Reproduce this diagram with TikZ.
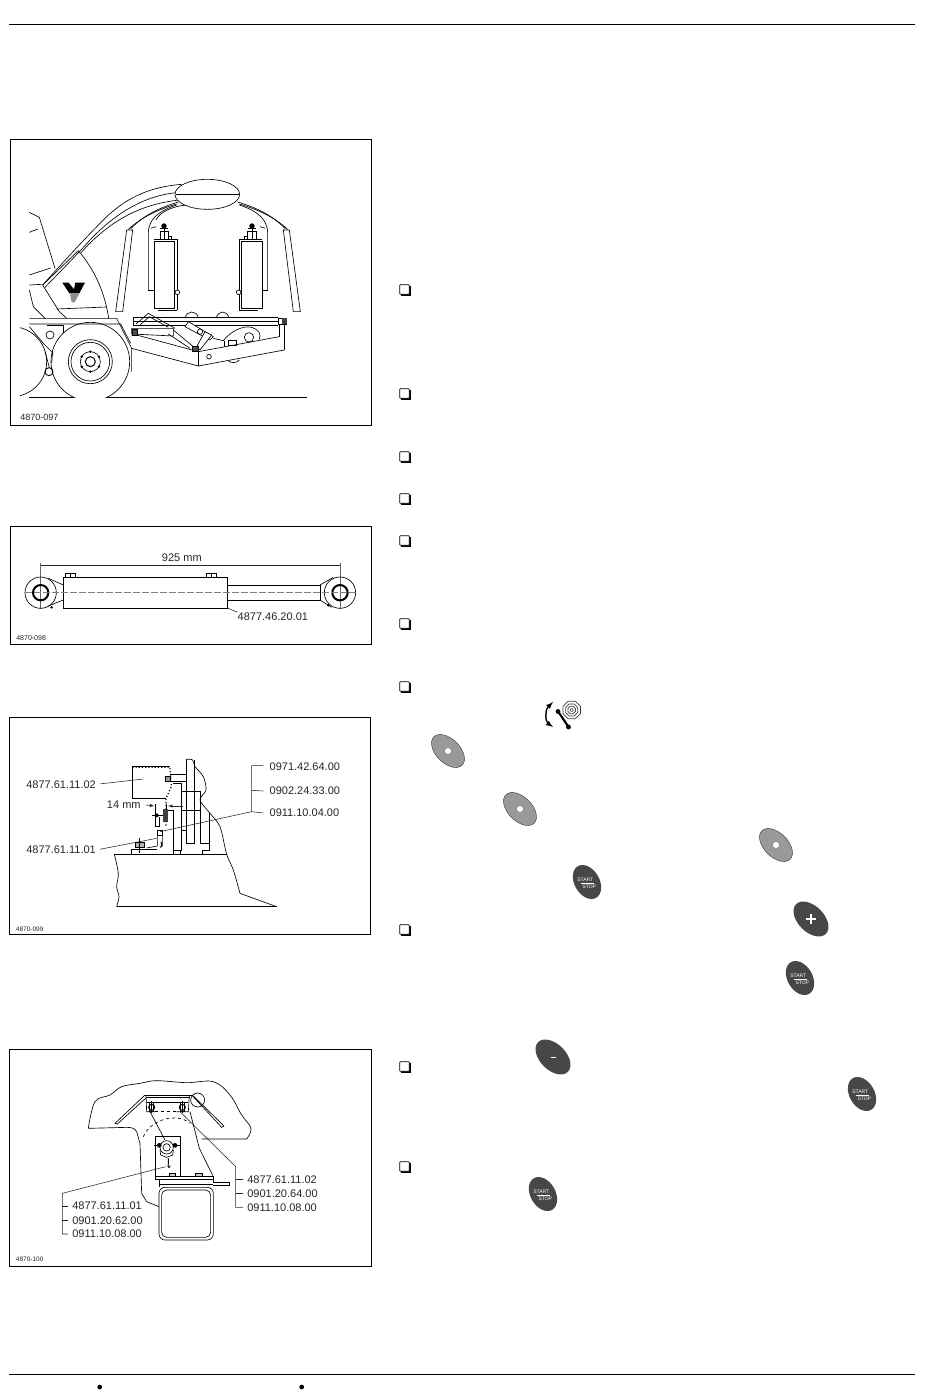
\documentclass[tikz,border=0pt]{standalone}
\usepackage{fontspec}
\setmainfont{Liberation Sans}
\usetikzlibrary{arrows,shapes.geometric,positioning}

\tikzset{
    panel/.style={x=0.33333pt, y=-0.33333pt, yshift=-#1pt, line width=0.65pt},
    partlabel/.style={anchor=west, inner sep=0pt, font=\fontsize{11}{13}\selectfont, text=black!85},
    tagtext/.style={anchor=west, inner sep=0pt, font=\fontsize{7}{9}\selectfont, text=black!85},
    framebox/.style={draw=black, line width=0.9pt},
    leader/.style={line width=0.55pt, black!85},
    greybtn/.style={ellipse, draw=black!80, line width=0.4pt, fill=black!40, inner sep=0pt, minimum width=40pt, minimum height=24pt, rotate=-45},
    darkbtn/.style={ellipse, fill=black!72, inner sep=0pt, minimum width=42pt, minimum height=26pt, rotate=-45},
    stopbtn/.style={ellipse, fill=black!72, inner sep=0pt, minimum width=36.5pt, minimum height=25pt, rotate=-60},
    stoptext/.style={inner sep=0pt, text=white, font=\fontsize{5}{6}\selectfont},
    checkbox/.style={draw=black, line width=0.7pt, fill=white, minimum size=9.5pt, inner sep=0pt, rounded corners=0.6pt},
}

\begin{document}
\begin{tikzpicture}[x=1pt, y=-1pt]
    \useasboundingbox (0,0) rectangle (950,1398);
    \fill[white] (0,0) rectangle (950,1398);

    % page rules
    \coordinate (topl) at (9,24.7);
    \coordinate (topr) at (915,24.7);
    \coordinate (botl) at (9,1374.7);
    \coordinate (botr) at (915,1374.7);
    \draw[line width=1pt] (topl) -- (topr);
    \draw[line width=1pt] (botl) -- (botr);
    \fill (99.7,1387) circle (2.4pt);
    \fill (301.7,1387) circle (2.4pt);

    % first panel, machine
    \begin{scope}[panel=130]
        \draw[framebox] (30,28) rectangle (1115,885);
        \node[tagtext, font=\fontsize{9}{11}\selectfont] (tagone) at (60,861) {4870-097};
        \draw (88,802) -- (920,802);

        % wheels
        \begin{scope}
            \clip (60,500) rectangle (420,802);
            \draw[fill=white] (35,695) circle (105);
            \draw[fill=white] (271,695) circle (118);
            \draw (271,695) circle (66);
            \draw (271,695) circle (58);
            \draw (271,695) circle (30);
            \draw[line width=1pt] (271,695) circle (15);
            \foreach \a in {30,90,...,330}
                \fill (271,695) ++(\a:30) circle (4);
        \end{scope}
        \draw (135,665) -- (148,712) (158,665) -- (155,700);
        \draw[line width=0.9pt] (147,725) circle (12);

        % cab and fender
        \draw (88,247) -- (118,262) -- (165,415);
        \draw (88,307) -- (114,297);
        \draw (88,435) -- (152,414);
        \draw (128,465) -- (235,362) .. controls (285,420) and (315,490) .. (326,565);
        \draw (128,465) -- (178,545) -- (200,565);
        \draw (170,537) -- (318,531);
        \draw (88,465) -- (125,463) (88,480) -- (100,530) -- (135,565);
        \fill (187,458) -- (206,458) -- (222,478) -- (226,458) -- (255,458) -- (238,490) -- (208,490) -- cycle;
        \fill[black!45] (210,490) -- (238,490) -- (224,517) -- (215,517) -- cycle;

        % boom
        \draw (128,465) .. controls (200,385) and (250,330) .. (320,260) .. controls (390,195) and (460,170) .. (545,163);
        \draw (135,472) .. controls (190,415) and (230,375) .. (270,330) .. controls (360,235) and (450,195) .. (530,188);
        \draw (243,368) .. controls (330,270) and (430,215) .. (565,208) .. controls (578,210) and (578,222) .. (560,225) .. controls (520,228) and (480,245) .. (468,270);
        \draw[fill=white] (622,193) ellipse (97 and 45);
        \draw[line width=0.9pt] (527,192) -- (717,192);

        % the parts that repeat on both sides
        \foreach \side in {0,1} {
            \begin{scope}[xshift=\side*416pt, xscale=1-2*\side]
                \draw (380,300) -- (398,300) -- (368,545) -- (347,545) -- cycle;
                \draw (385,298) .. controls (425,262) and (470,240) .. (530,222);
                \draw (392,296) .. controls (430,258) and (470,236) .. (535,216);
                \draw (445,480) -- (445,305) .. controls (448,270) and (470,245) .. (530,225);
                \draw (445,480) -- (462,480);
                \draw (452,295) -- (468,290);
                \draw (462,335) rectangle (524,535);
                \draw (462,328) -- (531,328) -- (531,540);
                \draw[fill=white] (532,487) circle (7);
                \draw[line width=1pt] (475,542) -- (531,542);
                \draw[line width=0.9pt] (492,330) -- (492,295);
                \draw[fill=black] (492,288) circle (7);
                \draw[line width=0.9pt] (481,296) -- (503,296);
                \draw (480,330) -- (480,305) -- (505,305) -- (505,330);
                \draw (505,318) -- (515,318) -- (515,328);
            \end{scope}
        }

        % table and lifting arm
        \draw (88,565) -- (350,565) -- (395,655) -- (395,725);
        \draw (88,582) -- (362,582) -- (392,640);
        \draw (88,590) -- (130,640) -- (160,670);
        \draw (140,585) -- (190,585) -- (190,610);
        \draw (150,615) circle (12);
        \draw (400,563) -- (835,563) (400,585) -- (835,585);
        \draw[line width=1pt] (400,574) -- (835,574);
        \draw (400,563) -- (400,585);
        \draw (835,565) rectangle (860,582);
        \fill[black!75] (845,565) rectangle (860,582);
        \draw (853,582) -- (853,660) (838,585) -- (838,622);
        \draw (395,655) -- (595,708) -- (853,660);
        \draw (410,615) -- (595,665) -- (838,620);
        \draw (595,665) -- (595,708);
        \draw (627,680) circle (7);
        \draw (685,692) .. controls (692,700) and (710,700) .. (718,690);
        \draw[fill=white] (395,595) -- (520,595) -- (520,618) -- (395,612) -- cycle;
        \draw[fill=black!70] (396,598) rectangle (411,615);
        \draw (408,582) -- (445,550) -- (525,595) (420,585) -- (448,560) -- (505,592);
        \draw (555,565) .. controls (560,540) and (590,540) .. (595,563);
        \draw (648,565) .. controls (655,540) and (680,540) .. (687,563);
        \draw[fill=white] (555,590) -- (565,575) -- (640,620) -- (630,630) -- cycle;
        \draw (520,600) -- (580,650) (505,612) -- (570,655);
        \draw[fill=white] (590,650) -- (615,605) -- (635,615) -- (600,660) -- cycle;
        \draw[fill=black!70] (578,650) rectangle (595,663);
        \draw (600,605) circle (8);
        \draw (640,625) -- (670,632) .. controls (690,605) and (730,585) .. (755,592) .. controls (775,598) and (785,612) .. (778,628);
        \draw (747,622) circle (14);
        \draw (685,631) rectangle (710,646);
        \draw (672,632) -- (672,650);
    \end{scope}

    % second panel, cylinder
    \begin{scope}[panel=520]
        \draw[framebox] (30,18) rectangle (1115,372);
        \node[tagtext] (tagtwo) at (48,354) {4870-098};
        \node[partlabel] (lenlabel) at (485,112) {925 mm};
        \node[partlabel] (cyllabel) at (712,289) {4877.46.20.01};
        \coordinate (lenl) at (122,135);
        \coordinate (lenr) at (1020,135);
        \coordinate (cyltip) at (635,245);
        \draw[leader] (lenl) -- (lenr);
        \draw[leader] (cyllabel.north west) -- (cyltip);
        \draw[black!60] (122,128) -- (122,268) (1020,128) -- (1020,268);

        \draw[fill=white] (190,172) rectangle (683,265);
        \draw (683,195) -- (960,195) -- (960,240) -- (683,240);
        \draw (145,175) -- (190,195) (145,258) -- (190,240);
        \draw (960,195) -- (1000,172) (960,240) -- (995,262);
        \foreach \cx in {122,1020} {
            \draw (\cx,218) circle (47);
            \draw[line width=2pt] (\cx,218) circle (23);
        }
        \draw[black!50, line width=1.2pt, dash pattern=on 7pt off 2pt] (75,218) -- (1065,218);
        \foreach \px in {197,620} {
            \draw (\px,160) rectangle (\px+28,172);
            \draw (\px+14,158) -- (\px+14,172);
        }
        \fill (155,262) circle (4);
        \fill (985,256) circle (4);
    \end{scope}

    % third panel, bracket on the frame
    \begin{scope}[panel=710]
        \draw[framebox] (28,22) rectangle (1112,672);
        \node[tagtext, font=\fontsize{6.5}{8}\selectfont] (tagthree) at (47,659) {4870-099};
        \node[partlabel] (bolttop) at (808,171) {0971.42.64.00};
        \node[partlabel] (boltmid) at (808,243) {0902.24.33.00};
        \node[partlabel] (boltlow) at (808,309) {0911.10.04.00};
        \node[partlabel] (platelabel) at (78,223) {4877.61.11.02};
        \node[partlabel] (clamplabel) at (78,420) {4877.61.11.01};
        \node[partlabel] (gaplabel) at (320,285) {14 mm};
        \coordinate (spine) at (755,305);
        \coordinate (spinetop) at (755,167);
        \coordinate (platetip) at (430,207);
        \coordinate (clamptip) at (470,385);
        \coordinate (bolttip) at (480,365);
        \draw[leader] (bolttop.west) ++(-18,-4) -- (spinetop) -- (spine) -- ([xshift=-6pt]boltlow.west);
        \draw[leader] (755,241) -- ([xshift=-6pt]boltmid.west);
        \draw[leader] (spine) -- (bolttip);
        \draw[leader, shorten <=4pt] (platelabel.east) -- (platetip);
        \draw[leader, shorten <=4pt] (clamplabel.east) -- (clamptip);

        \draw (397,265) -- (397,170) -- (510,170);
        \draw[line width=1.2pt, dotted] (397,172) -- (510,172) -- (514,230) -- (498,265) -- (498,350);
        \draw (397,265) -- (497,265);
        \draw (510,192) -- (560,192) (510,215) -- (560,215);
        \draw[fill=black!40] (497,198) rectangle (512,215);

        \draw plot[smooth, tension=0.5] coordinates {(560,148) (578,150) (585,170) (610,200) (618,240) (600,270) (630,310) (660,350) (680,433) (700,480) (720,550)} -- (830,590);
        \draw (560,148) -- (560,400) -- (583,400) -- (583,150);
        \draw (520,220) -- (545,220) -- (545,420) -- (520,420) -- (520,300) -- (505,300);
        \draw (545,245) -- (600,245) -- (600,400) -- (628,400) -- (628,420) -- (607,420) -- (607,433);
        \draw (628,310) -- (628,400);
        \draw (545,300) -- (600,300) (545,360) -- (560,360);
        \draw (540,420) -- (540,433) (520,420) -- (520,433);

        \draw (343,433) -- (680,433);
        \draw plot[smooth, tension=0.5] coordinates {(343,433) (355,490) (350,530) (357,560) (350,590)};
        \draw[line width=1.1pt] (350,590) -- (830,590);

        % the gap dimension and the screw
        \coordinate (gapa) at (463,288);
        \coordinate (gapb) at (504,288);
        \coordinate (gapc) at (548,288);
        \draw[leader, -latex] ([xshift=5pt]gaplabel.east) -- (gapa);
        \draw[leader, -latex] (gapc) -- (gapb);
        \draw (465,283) -- (465,350) (498,283) -- (498,300);
        \draw[line width=1.6pt] (455,316) -- (505,316);
        \fill (470,316) circle (6);
        \fill[black!75] (490,296) rectangle (503,335);
        \draw (465,350) -- (478,350) -- (478,320);
        \draw[line width=1pt] (472,360) rectangle (488,375);
        \draw (472,375) -- (472,408) -- (440,414) (488,375) -- (488,408);
        \draw[line width=1pt] (483,395) -- (486,408) -- (480,412);
        \draw (393,433) -- (393,418) -- (470,418);
        \draw[fill=black!30] (406,397) rectangle (432,413);
        \draw (419,385) -- (419,430);
    \end{scope}

    % fourth panel, bracket from below
    \begin{scope}[panel=1040]
        \draw[framebox] (28,28) rectangle (1115,680);
        \node[tagtext, font=\fontsize{6.5}{8}\selectfont] (tagfour) at (47,658) {4870-100};
        \node[partlabel] (rightone) at (741,418) {4877.61.11.02};
        \node[partlabel] (righttwo) at (741,460) {0901.20.64.00};
        \node[partlabel] (rightthree) at (741,502) {0911.10.08.00};
        \node[partlabel] (leftone) at (216,498) {4877.61.11.01};
        \node[partlabel] (lefttwo) at (216,541) {0901.20.62.00};
        \node[partlabel] (leftthree) at (216,582) {0911.10.08.00};
        \coordinate (rspine) at (707,380);
        \coordinate (rtip) at (540,215);
        \coordinate (lspine) at (187,460);
        \coordinate (ltip) at (497,380);
        \draw[leader] (rtip) -- (rspine) -- (707,502) -- ([xshift=-4pt]rightthree.west);
        \draw[leader] (707,418) -- ([xshift=-4pt]rightone.west);
        \draw[leader] (707,460) -- ([xshift=-4pt]righttwo.west);
        \draw[leader] (ltip) -- (lspine) -- (187,582) -- ([xshift=-4pt]leftthree.west);
        \draw[leader] (187,498) -- ([xshift=-4pt]leftone.west);
        \draw[leader] (187,541) -- ([xshift=-4pt]lefttwo.west);

        \draw plot[smooth, tension=0.6] coordinates {(265,265) (285,185) (330,165) (365,140) (420,130) (470,122) (560,128) (640,125) (690,165) (725,225) (753,265) (740,297)} -- (605,297);
        \draw (265,265) -- (380,262) .. controls (395,262) and (405,265) .. (410,275) -- (420,310) -- (425,460) -- (440,485) -- (477,500);
        \draw[dashed] (430,290) .. controls (450,240) and (530,215) .. (570,250);

        \draw (435,165) -- (575,165) (440,172) -- (570,172);
        \draw (435,165) -- (345,250) -- (352,252) -- (440,172);
        \draw (575,165) -- (665,262) -- (672,258) -- (580,168);
        \draw (593,180) circle (21);
        \draw (438,165) -- (440,215) -- (465,215) (568,168) -- (565,215) -- (530,215);
        \draw[dashed] (465,215) -- (530,215);
        \draw (440,187) -- (565,187);
        \foreach \bx in {455,547} {
            \draw[line width=1pt] (\bx,202) circle (9);
            \draw (\bx-6,187) rectangle (\bx+6,215);
            \draw (\bx,182) -- (\bx,220);
        }
        \draw (450,215) -- (495,300);
        \draw (570,215) -- (598,325) -- (640,410);

        \draw (465,290) rectangle (540,410);
        \draw[line width=1.2pt] (462,316) -- (542,316);
        \draw[fill=white] (500,322) circle (20);
        \draw (500,322) circle (11);
        \draw (482,345) -- (480,330) (518,345) -- (520,330) (482,345) -- (500,352) -- (518,345);
        \fill (478,316) circle (7);
        \fill (525,316) circle (7);
        \draw[line width=0.9pt] (505,355) -- (505,372) .. controls (500,385) and (512,385) .. (510,376);

        \draw (467,410) -- (640,410) -- (640,418) -- (467,418) -- cycle;
        \draw[fill=black!20] (507,400) rectangle (527,410);
        \draw[fill=black!20] (587,400) rectangle (607,410);
        \draw (477,418) -- (477,440) (640,418) -- (640,427);
        \draw (640,427) -- (687,427) -- (687,437) -- (640,437);
        \draw (477,434) -- (640,434);
        \draw[rounded corners=6pt] (477,442) rectangle (640,600);
        \draw[rounded corners=5pt] (485,450) rectangle (632,592);
    \end{scope}

    % check boxes
    \foreach \cy in {290,394,457,499,541,624,687,930,1067,1167} {
        \fill (400.8,\cy-4) rectangle (411,\cy+6);
        \node[checkbox] (chk\cy) at (404.5,\cy-0.5) {};
    }

    % keys
    \foreach \kname/\kx/\ky in {keya/448/751, keyb/520/809, keyc/776/845} {
        \node[greybtn] (\kname) at (\kx,\ky) {};
        \fill[white] (\kx,\ky) circle (3pt);
    }
    \foreach \kname/\kx/\ky in {stopa/587/882, stopb/800/978, stopc/862/1094, stopd/543/1194} {
        \node[stopbtn] (\kname) at (\kx,\ky) {};
        \node[stoptext] at (\kx-1.7,\ky-2.7) {START};
        \node[stoptext] at (\kx+2.3,\ky+5) {STOP};
        \draw[white, line width=0.3pt] (\kx-6.5,\ky+0.7) -- (\kx+6.5,\ky+0.7);
    }
    \node[darkbtn] (plus) at (811,919) {};
    \draw[white, line width=1.3pt] (806,919) -- (816,919) (811,914) -- (811,924);
    \node[darkbtn] (minus) at (553,1057) {};
    \draw[white, line width=1.3pt] (550.5,1057.5) -- (555.5,1057.5);

    % mode icon
    \foreach \osize in {19,13,8,3} {
        \node[regular polygon, regular polygon sides=8, draw=black!75, line width=0.7pt, inner sep=0pt, minimum size=\osize pt] at (571.7,710) {};
    }
    \draw[line width=1.4pt, latex-latex] (553,702) .. controls (544,711) and (546,722) .. (553,727);
    \draw[line width=2.2pt, line cap=round] (558.5,712) -- (568.5,727);
    \fill (558,711.5) circle (2.4pt);
    \fill (568.5,727) circle (2.4pt);
\end{tikzpicture}
\end{document}
